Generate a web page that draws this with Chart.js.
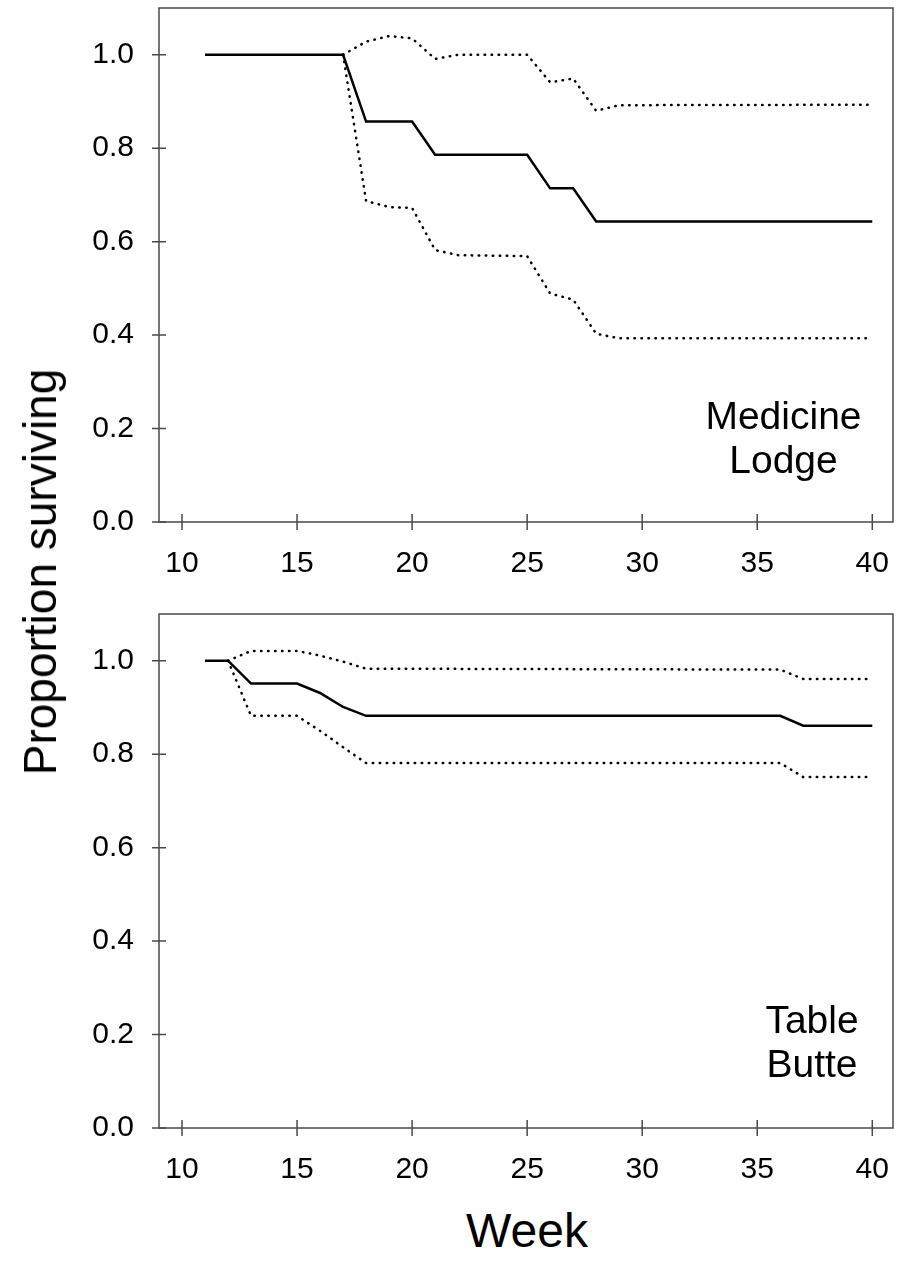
<!DOCTYPE html>
<html lang="en">
<head>
<meta charset="UTF-8">
<title>Proportion surviving by week</title>
<style>
    * { margin: 0; padding: 0; box-sizing: border-box; }
    body { width: 898px; height: 1262px; background: #fff; position: relative; overflow: hidden;
           font-family: "Liberation Sans", Arial, sans-serif; color: #000; }
    .panel { position: absolute; left: 0; width: 898px; height: 590px; }
    #topPanel { top: 0; }
    #bottomPanel { top: 606px; }
    .ytitle { position: absolute; left: 40px; top: 572px; white-space: nowrap; font-size: 46px;
              transform: translate(-50%, -50%) rotate(-90deg); }
    .xtitle { position: absolute; left: 527px; top: 1230px; font-size: 48px;
              transform: translate(-50%, -50%); }
</style>
<script src="https://cdn.jsdelivr.net/npm/chart.js"></script>
</head>
<body>
    <div class="panel" id="topPanel"><canvas id="medicineChart"></canvas></div>
    <div class="panel" id="bottomPanel"><canvas id="butteChart"></canvas></div>
    <div class="ytitle">Proportion surviving</div>
    <div class="xtitle">Week</div>
<script>
    const weekTicks = [10, 15, 20, 25, 30, 35, 40];
    const propTicks = [0, 0.2, 0.4, 0.6, 0.8, 1.0];

    // Medicine Lodge
    const mlWeeks = [11, 17, 18, 20, 21, 25, 26, 27, 28, 40];
    const mlSurv = [1.0, 1.0, 0.857, 0.857, 0.786, 0.786, 0.714, 0.714, 0.643, 0.643];
    const mlCiWeeks = [17, 18, 19, 20, 21, 22, 25, 26, 27, 28, 29, 40];
    const mlUpper = [1.0, 1.028, 1.040, 1.035, 0.991, 1.0, 1.0, 0.941, 0.949, 0.880, 0.892, 0.893];
    const mlLower = [1.0, 0.687, 0.674, 0.672, 0.582, 0.571, 0.569, 0.489, 0.476, 0.403, 0.393, 0.393];

    // Table Butte
    const tbWeeks = [11, 12, 13, 15, 16, 17, 18, 36, 37, 40];
    const tbSurv = [1.0, 1.0, 0.951, 0.951, 0.931, 0.901, 0.882, 0.882, 0.861, 0.861];
    const tbCiWeeks = [12, 13, 15, 16, 17, 18, 36, 37, 40];
    const tbUpper = [1.0, 1.021, 1.021, 1.011, 0.998, 0.983, 0.981, 0.961, 0.961];
    const tbLower = [1.0, 0.882, 0.882, 0.850, 0.815, 0.781, 0.781, 0.751, 0.751];

    const FONT = '"Liberation Sans", Arial, sans-serif';

    // box, crossing tick marks and the site name
    const framePlugin = {
        id: 'frame',
        afterDraw(chart, args, opts) {
            const { ctx, chartArea: a } = chart;
            const x = chart.scales.x, y = chart.scales.y;
            ctx.save();
            ctx.strokeStyle = '#4a4a4a';
            ctx.lineWidth = 1.5;
            ctx.strokeRect(a.left, a.top, a.right - a.left, a.bottom - a.top);
            ctx.beginPath();
            x.ticks.forEach(t => {
                const px = x.getPixelForValue(t.value);
                ctx.moveTo(px, a.bottom - 8);
                ctx.lineTo(px, a.bottom + 8);
            });
            y.ticks.forEach(t => {
                const py = y.getPixelForValue(t.value);
                ctx.moveTo(a.left - 7, py);
                ctx.lineTo(a.left + 7, py);
            });
            ctx.stroke();

            ctx.fillStyle = '#000';
            ctx.font = '39px ' + FONT;
            ctx.textAlign = 'center';
            ctx.textBaseline = 'alphabetic';
            const cx = x.getPixelForValue(opts.x);
            const cy = y.getPixelForValue(opts.y);
            opts.lines.forEach((s, i) => ctx.fillText(s, cx, cy + i * 44));
            ctx.restore();
        }
    };

    function pts(xs, ys) {
        return xs.map((w, i) => ({ x: w, y: ys[i] }));
    }

    function makePanel(id, weeks, surv, ciWeeks, upper, lower, label) {
        const dotted = { borderColor: '#000', borderWidth: 2.5, borderDash: [0.5, 6.5], borderCapStyle: 'round' };
        new Chart(document.getElementById(id), {
            type: 'line',
            data: {
                datasets: [
                    { data: pts(weeks, surv), borderColor: '#000', borderWidth: 2.5 },
                    Object.assign({ data: pts(ciWeeks, upper) }, dotted),
                    Object.assign({ data: pts(ciWeeks, lower) }, dotted)
                ]
            },
            options: {
                responsive: true,
                maintainAspectRatio: false,
                animation: false,
                layout: { padding: { top: 8, right: 5, left: 0, bottom: 0 } },
                elements: { point: { radius: 0 }, line: { tension: 0 } },
                plugins: { legend: { display: false }, tooltip: { enabled: false }, frame: label },
                scales: {
                    x: {
                        type: 'linear', min: 9, max: 40.9,
                        afterFit: s => { s.height = 68; s.paddingLeft = 0; s.paddingRight = 0; },
                        afterBuildTicks: s => { s.ticks = weekTicks.map(v => ({ value: v })); },
                        grid: { display: false, drawTicks: false },
                        border: { display: false },
                        ticks: { padding: 24, color: '#000', maxRotation: 0, autoSkip: false,
                                 font: { size: 30, family: FONT } }
                    },
                    y: {
                        min: 0, max: 1.1,
                        afterFit: s => { s.width = 159; s.paddingTop = 0; s.paddingBottom = 0; },
                        afterBuildTicks: s => { s.ticks = propTicks.map(v => ({ value: v })); },
                        grid: { display: false, drawTicks: false },
                        border: { display: false },
                        ticks: { padding: 25, color: '#000', callback: v => v.toFixed(1),
                                 font: { size: 30, family: FONT } }
                    }
                }
            },
            plugins: [framePlugin]
        });
    }

    makePanel('medicineChart', mlWeeks, mlSurv, mlCiWeeks, mlUpper, mlLower,
        { x: 36.14, y: 0.2, lines: ['Medicine', 'Lodge'] });
    makePanel('butteChart', tbWeeks, tbSurv, tbCiWeeks, tbUpper, tbLower,
        { x: 37.38, y: 0.204, lines: ['Table', 'Butte'] });
</script>
</body>
</html>
